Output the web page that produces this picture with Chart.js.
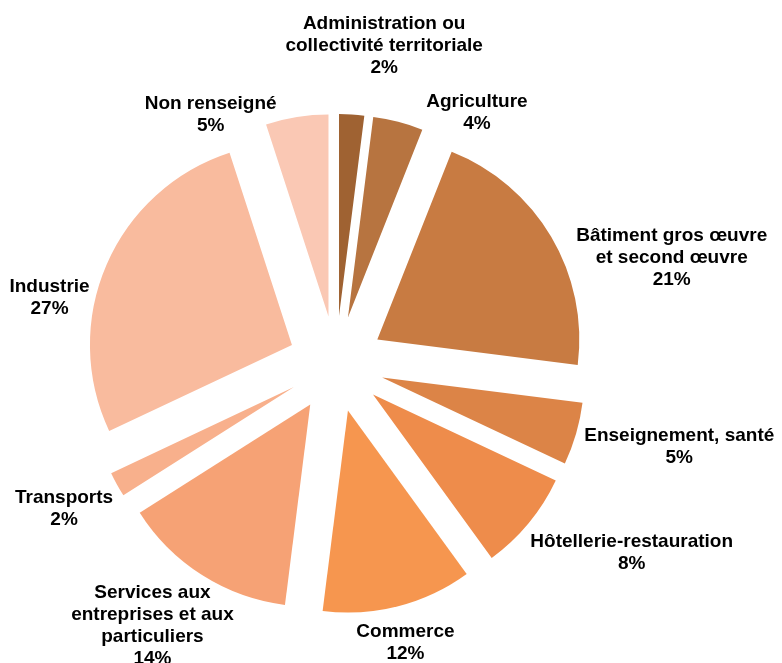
<!DOCTYPE html>
<html>
<head>
<meta charset="utf-8">
<script src="https://cdn.jsdelivr.net/npm/chart.js@4.4.0/dist/chart.umd.min.js"></script>
<style>
  html, body { margin: 0; padding: 0; background: #fff; }
</style>
</head>
<body>
<canvas id="chart" width="782" height="663"></canvas>
<script>
const sectors = [
  ["Administration ou", "collectivité territoriale"],
  ["Agriculture"],
  ["Bâtiment gros œuvre", "et second œuvre"],
  ["Enseignement, santé"],
  ["Hôtellerie-restauration"],
  ["Commerce"],
  ["Services aux", "entreprises et aux", "particuliers"],
  ["Transports"],
  ["Industrie"],
  ["Non renseigné"]
];
const shares = [2, 4, 21, 5, 8, 12, 14, 2, 27, 5];
const colours = [
  "#9f6232", "#b77440", "#c87b42", "#dc8447", "#ee8c4b",
  "#f6964f", "#f6a275", "#f8b08c", "#f9bb9e", "#fac8b4"
];

// label placement around the pie: angle (deg, clockwise from top) and distance from centre
const labelAngles = [8.6, 29.3, 72.5, 103.5, 122.6, 166, 215, 242, 283, 333.3];
const labelDistances = [322, 288, 352, 353, 351, 287, 320, 308, 294, 279];

const explode = 48;

// push every slice out from the centre by the same distance
const explodePlugin = {
  id: 'explode',
  beforeDatasetDraw(chart, args) {
    args.meta.data.forEach(arc => {
      if (arc._exploded) return;
      arc._exploded = true;
      const draw = arc.draw;
      arc.draw = function (ctx) {
        const mid = (this.startAngle + this.endAngle) / 2;
        ctx.save();
        ctx.translate(Math.cos(mid) * explode, Math.sin(mid) * explode);
        draw.call(this, ctx);
        ctx.restore();
      };
    });
  }
};

const labelPlugin = {
  id: 'sliceLabels',
  afterDatasetsDraw(chart) {
    const ctx = chart.ctx;
    const arcs = chart.getDatasetMeta(0).data;
    const cx = arcs[0].x, cy = arcs[0].y;
    ctx.save();
    ctx.fillStyle = "#000";
    ctx.font = "bold 19px 'Liberation Sans', Arial, sans-serif";
    ctx.textAlign = "center";
    ctx.textBaseline = "middle";
    const lh = 22;
    sectors.forEach((lines, i) => {
      const a = labelAngles[i] * Math.PI / 180;
      const x = cx + Math.sin(a) * labelDistances[i];
      const y = cy - Math.cos(a) * labelDistances[i];
      const all = lines.concat([shares[i] + "%"]);
      const top = y - (all.length - 1) * lh / 2;
      all.forEach((t, j) => ctx.fillText(t, x, top + j * lh));
    });
    ctx.restore();
  }
};

new Chart(document.getElementById('chart'), {
  type: 'pie',
  data: {
    labels: sectors,
    datasets: [{
      data: shares,
      backgroundColor: colours,
      borderWidth: 0
    }]
  },
  options: {
    responsive: false,
    animation: false,
    radius: 202,
    layout: { padding: { left: 0, right: 110, top: 65, bottom: 0 } },
    plugins: {
      legend: { display: false },
      tooltip: { enabled: false }
    }
  },
  plugins: [explodePlugin, labelPlugin]
});
</script>
</body>
</html>
